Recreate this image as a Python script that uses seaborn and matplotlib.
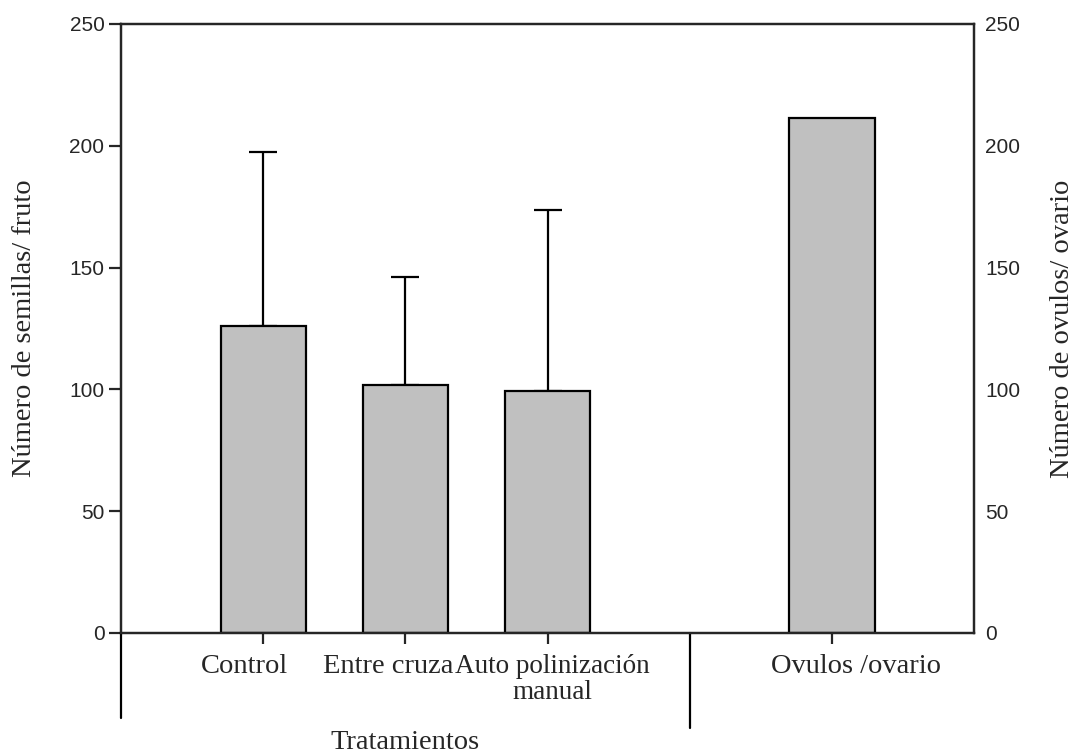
import matplotlib
matplotlib.use("Agg")
import matplotlib.pyplot as plt
import seaborn as sns
import pandas as pd

# datos
tratamientos = ['Control', 'Entre cruza', 'Auto polinización\nmanual', 'Ovulos /ovario']
posiciones = [0, 1, 2, 4]
medias = [126, 102, 99.5, 211.5]
desv_sup = [71.6, 44.2, 74.1, 0]
ticks_y = [0, 50, 100, 150, 200, 250]

sns.set_style("white")
plt.rcParams['font.family'] = ['Liberation Serif', 'DejaVu Serif']

df = pd.DataFrame({'pos': posiciones, 'media': medias, 'trat': tratamientos})

fig = plt.figure(figsize=(10.75, 7.54), dpi=100)
ax = fig.add_axes([0.1126, 0.1605, 0.7935, 0.8077])

sns.barplot(data=df, x='pos', y='media', native_scale=True, width=0.6,
            color='#c0c0c0', saturation=1, edgecolor='black', linewidth=1.6,
            errorbar=None, ax=ax, zorder=2)

# barras de error (solo hacia arriba)
ax.errorbar(posiciones[:3], medias[:3], yerr=[[0, 0, 0], desv_sup[:3]],
            fmt='none', ecolor='black', elinewidth=1.6, capsize=10,
            capthick=1.6, zorder=1)

ax.set_xlim(-1, 5)
ax.set_ylim(0, 250)
ax.set_yticks(ticks_y)
ax.set_xticks(posiciones)
ax.set_xticklabels([])
ax.set_xlabel('')
ax.set_ylabel('Número de semillas/ fruto', fontsize=20.5)
ax.yaxis.set_label_coords(-0.099, 0.5)

tr = ax.get_xaxis_transform()

# etiquetas de categoría: en el original no quedan centradas en su marca
desplaz = [-19, -17, 5, 24]
tamanos = [20.5, 20.5, 19.5, 20.5]
for pos, txt, dx, fs in zip(posiciones, tratamientos, desplaz, tamanos):
    ax.annotate(txt, xy=(pos, 0), xycoords=tr, xytext=(dx, -21),
                textcoords='offset pixels', ha='center', va='top',
                fontsize=fs, linespacing=1.05, annotation_clip=False)

for lab in ax.get_yticklabels():
    lab.set_fontfamily(['Liberation Sans', 'DejaVu Sans'])
    lab.set_fontsize(15)

ax.tick_params(axis='y', direction='out', length=9, width=1.6, pad=3, left=True)
ax.tick_params(axis='x', direction='out', length=8, width=1.6, bottom=True)
for s in ax.spines.values():
    s.set_linewidth(1.6)
    s.set_color('black')

# eje derecho
ax2 = ax.twinx()
ax2.set_ylim(0, 250)
ax2.set_yticks(ticks_y)
ax2.tick_params(axis='y', length=0, pad=8)
for lab in ax2.get_yticklabels():
    lab.set_fontfamily(['Liberation Sans', 'DejaVu Sans'])
    lab.set_fontsize(15)
ax2.set_ylabel('Número de ovulos/ ovario', fontsize=20.5)
ax2.yaxis.set_label_coords(1.089, 0.5)
for s in ax2.spines.values():
    s.set_linewidth(1.6)

# separadores bajo el eje x
ax.plot([-1, -1], [0, -0.1396], transform=tr, color='black', lw=1.6, clip_on=False)
ax.plot([3, 3], [0, -0.156], transform=tr, color='black', lw=1.6, clip_on=False)

ax.text(1, -0.18, 'Tratamientos', transform=tr, ha='center', va='center', fontsize=20.5)

fig.savefig('out.png', dpi=100)
